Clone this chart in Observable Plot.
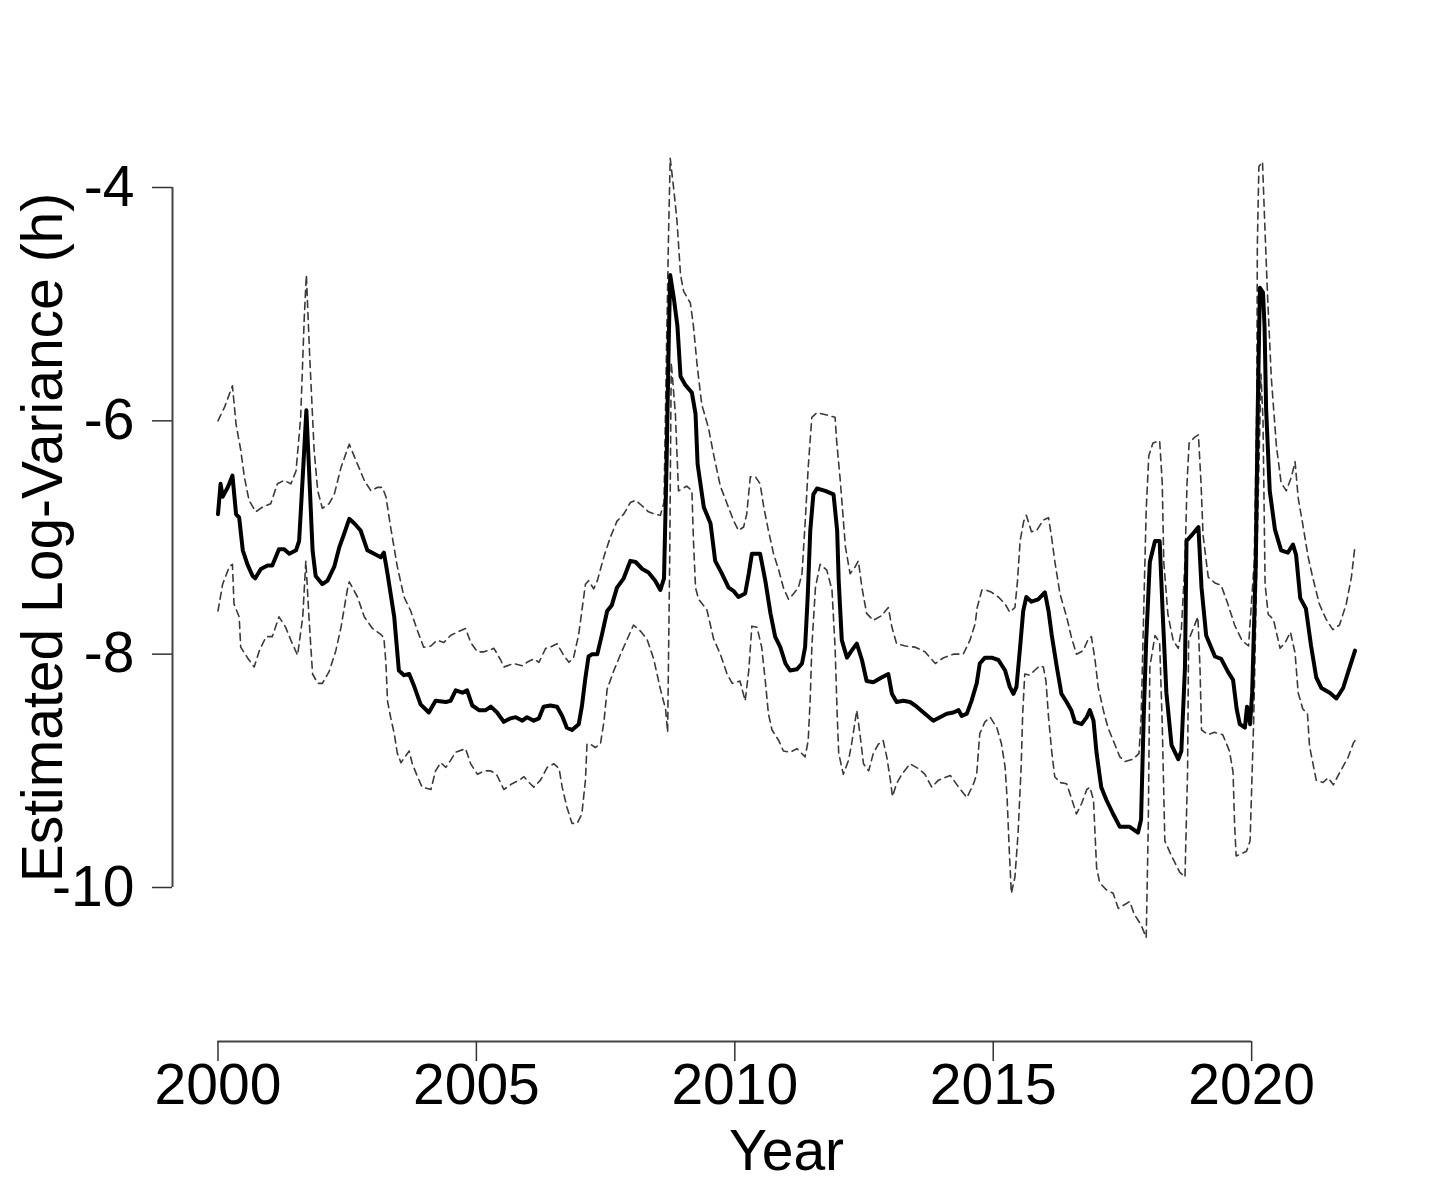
<!DOCTYPE html>
<html>
<head>
<meta charset="utf-8">
<script src="https://cdn.jsdelivr.net/npm/d3@7"></script>
<script src="https://cdn.jsdelivr.net/npm/@observablehq/plot@0.6"></script>
<style>
  html, body { margin: 0; padding: 0; background: #ffffff; }
  #chart { width: 1435px; height: 1196px; }
</style>
</head>
<body>
<div id="chart"></div>
<script>
// ---- Data (year, estimated log-variance) ----
const estimate = [
[2000.00,-6.80],[2000.05,-6.54],[2000.09,-6.65],[2000.19,-6.57],[2000.28,-6.47],[2000.35,-6.80],[2000.41,-6.83],
[2000.48,-7.11],[2000.57,-7.23],[2000.67,-7.33],[2000.72,-7.35],[2000.83,-7.27],[2000.96,-7.24],[2001.05,-7.24],
[2001.18,-7.10],[2001.28,-7.10],[2001.38,-7.14],[2001.51,-7.11],[2001.57,-7.03],[2001.64,-6.48],[2001.71,-5.91],
[2001.76,-6.40],[2001.83,-7.11],[2001.89,-7.33],[2002.02,-7.40],[2002.12,-7.37],[2002.25,-7.25],[2002.35,-7.08],
[2002.44,-6.97],[2002.54,-6.84],[2002.64,-6.88],[2002.76,-6.94],[2002.89,-7.11],[2003.02,-7.14],[2003.15,-7.17],
[2003.21,-7.13],[2003.28,-7.31],[2003.41,-7.68],[2003.50,-8.14],[2003.60,-8.18],[2003.70,-8.17],[2003.80,-8.28],
[2003.92,-8.43],[2004.08,-8.50],[2004.21,-8.40],[2004.41,-8.41],[2004.50,-8.40],[2004.60,-8.31],[2004.73,-8.33],
[2004.82,-8.31],[2004.92,-8.44],[2005.05,-8.48],[2005.18,-8.48],[2005.28,-8.45],[2005.40,-8.50],[2005.53,-8.58],
[2005.66,-8.55],[2005.76,-8.54],[2005.89,-8.57],[2005.98,-8.54],[2006.11,-8.57],[2006.21,-8.55],[2006.30,-8.45],
[2006.43,-8.44],[2006.56,-8.45],[2006.66,-8.53],[2006.75,-8.63],[2006.85,-8.65],[2006.98,-8.60],[2007.04,-8.45],
[2007.11,-8.20],[2007.17,-8.02],[2007.24,-8.00],[2007.34,-8.00],[2007.43,-7.83],[2007.53,-7.63],[2007.62,-7.58],
[2007.72,-7.43],[2007.85,-7.35],[2007.98,-7.20],[2008.08,-7.21],[2008.21,-7.27],[2008.33,-7.30],[2008.46,-7.37],
[2008.56,-7.45],[2008.63,-7.35],[2008.68,-6.36],[2008.72,-5.35],[2008.75,-4.75],[2008.82,-4.95],[2008.89,-5.19],
[2008.95,-5.62],[2009.04,-5.69],[2009.17,-5.76],[2009.24,-5.94],[2009.28,-6.37],[2009.40,-6.74],[2009.53,-6.88],
[2009.62,-7.20],[2009.75,-7.31],[2009.88,-7.43],[2009.98,-7.46],[2010.07,-7.51],[2010.20,-7.48],[2010.27,-7.31],
[2010.33,-7.14],[2010.49,-7.14],[2010.59,-7.37],[2010.69,-7.65],[2010.78,-7.85],[2010.88,-7.94],[2010.98,-8.08],
[2011.07,-8.14],[2011.20,-8.13],[2011.30,-8.08],[2011.36,-7.94],[2011.41,-7.51],[2011.46,-6.94],[2011.52,-6.63],
[2011.59,-6.58],[2011.75,-6.60],[2011.91,-6.63],[2011.98,-6.94],[2012.01,-7.37],[2012.07,-7.88],[2012.17,-8.03],
[2012.26,-7.97],[2012.36,-7.91],[2012.46,-8.05],[2012.55,-8.23],[2012.68,-8.24],[2012.84,-8.20],[2012.97,-8.17],
[2013.04,-8.34],[2013.13,-8.41],[2013.26,-8.40],[2013.39,-8.41],[2013.52,-8.45],[2013.65,-8.50],[2013.84,-8.57],
[2013.97,-8.54],[2014.10,-8.51],[2014.23,-8.50],[2014.33,-8.48],[2014.39,-8.53],[2014.49,-8.51],[2014.58,-8.40],
[2014.68,-8.25],[2014.74,-8.08],[2014.84,-8.03],[2014.97,-8.03],[2015.10,-8.05],[2015.23,-8.14],[2015.32,-8.28],
[2015.39,-8.34],[2015.45,-8.28],[2015.52,-7.94],[2015.58,-7.63],[2015.64,-7.51],[2015.74,-7.55],[2015.87,-7.53],
[2016.00,-7.47],[2016.07,-7.63],[2016.13,-7.83],[2016.23,-8.11],[2016.32,-8.34],[2016.42,-8.41],[2016.51,-8.48],
[2016.58,-8.58],[2016.71,-8.60],[2016.81,-8.54],[2016.87,-8.48],[2016.94,-8.57],[2017.00,-8.85],[2017.09,-9.14],
[2017.19,-9.25],[2017.32,-9.37],[2017.45,-9.48],[2017.64,-9.48],[2017.80,-9.53],[2017.86,-9.42],[2017.91,-8.56],
[2017.96,-7.88],[2018.03,-7.21],[2018.13,-7.03],[2018.22,-7.03],[2018.28,-7.66],[2018.35,-8.33],[2018.45,-8.78],
[2018.58,-8.90],[2018.64,-8.83],[2018.71,-8.11],[2018.74,-7.03],[2018.84,-6.98],[2018.97,-6.91],[2019.03,-7.43],
[2019.12,-7.84],[2019.29,-8.02],[2019.41,-8.04],[2019.54,-8.15],[2019.64,-8.22],[2019.71,-8.47],[2019.77,-8.60],
[2019.87,-8.63],[2019.91,-8.45],[2019.97,-8.60],[2020.01,-8.33],[2020.08,-7.21],[2020.12,-5.85],[2020.16,-4.86],
[2020.22,-4.90],[2020.25,-5.20],[2020.28,-5.90],[2020.35,-6.60],[2020.45,-6.93],[2020.57,-7.11],[2020.70,-7.13],
[2020.80,-7.06],[2020.86,-7.15],[2020.94,-7.52],[2021.05,-7.61],[2021.15,-7.93],[2021.25,-8.20],[2021.35,-8.29],
[2021.51,-8.33],[2021.64,-8.38],[2021.77,-8.29],[2021.87,-8.15],[2022.00,-7.97]
];

const upperBand = [
[2000.00,-6.00],[2000.13,-5.88],[2000.28,-5.70],[2000.35,-6.03],[2000.44,-6.25],[2000.51,-6.48],[2000.60,-6.68],
[2000.73,-6.78],[2000.86,-6.74],[2001.02,-6.71],[2001.15,-6.54],[2001.28,-6.51],[2001.41,-6.54],[2001.51,-6.43],
[2001.60,-5.97],[2001.67,-5.11],[2001.71,-4.75],[2001.77,-5.40],[2001.86,-6.25],[2001.93,-6.60],[2002.02,-6.75],
[2002.15,-6.71],[2002.25,-6.63],[2002.38,-6.40],[2002.54,-6.20],[2002.67,-6.34],[2002.83,-6.51],[2002.96,-6.60],
[2003.09,-6.57],[2003.18,-6.57],[2003.25,-6.65],[2003.34,-6.91],[2003.47,-7.25],[2003.60,-7.51],[2003.73,-7.63],
[2003.86,-7.80],[2003.98,-7.94],[2004.12,-7.93],[2004.24,-7.88],[2004.37,-7.90],[2004.50,-7.84],[2004.63,-7.81],
[2004.79,-7.78],[2004.89,-7.90],[2005.02,-7.98],[2005.15,-7.98],[2005.34,-7.95],[2005.47,-8.05],[2005.53,-8.11],
[2005.72,-8.08],[2005.89,-8.10],[2005.98,-8.07],[2006.11,-8.04],[2006.21,-8.07],[2006.34,-7.95],[2006.43,-7.94],
[2006.56,-7.91],[2006.69,-8.01],[2006.79,-8.07],[2006.88,-8.03],[2006.98,-7.83],[2007.04,-7.63],[2007.11,-7.40],
[2007.17,-7.37],[2007.27,-7.44],[2007.34,-7.37],[2007.47,-7.16],[2007.59,-7.00],[2007.72,-6.86],[2007.85,-6.80],
[2007.98,-6.70],[2008.08,-6.68],[2008.21,-6.73],[2008.33,-6.78],[2008.46,-6.80],[2008.56,-6.81],[2008.63,-6.70],
[2008.68,-5.35],[2008.72,-4.35],[2008.75,-3.75],[2008.82,-4.02],[2008.88,-4.28],[2008.95,-4.75],[2009.01,-4.89],
[2009.14,-4.99],[2009.20,-5.19],[2009.27,-5.52],[2009.36,-5.86],[2009.49,-6.06],[2009.59,-6.29],[2009.72,-6.56],
[2009.85,-6.71],[2009.98,-6.86],[2010.07,-6.94],[2010.17,-6.91],[2010.23,-6.80],[2010.30,-6.48],[2010.40,-6.48],
[2010.49,-6.54],[2010.56,-6.74],[2010.65,-6.94],[2010.75,-7.14],[2010.85,-7.28],[2010.94,-7.43],[2011.04,-7.53],
[2011.14,-7.48],[2011.23,-7.43],[2011.30,-7.31],[2011.36,-6.88],[2011.42,-6.40],[2011.49,-5.97],[2011.59,-5.93],
[2011.78,-5.95],[2011.94,-5.97],[2011.97,-6.17],[2012.04,-6.51],[2012.14,-7.08],[2012.23,-7.31],[2012.33,-7.25],
[2012.39,-7.20],[2012.46,-7.43],[2012.55,-7.65],[2012.68,-7.71],[2012.84,-7.67],[2012.97,-7.60],[2013.04,-7.77],
[2013.13,-7.91],[2013.30,-7.93],[2013.49,-7.94],[2013.68,-7.98],[2013.88,-8.08],[2014.04,-8.03],[2014.23,-8.00],
[2014.42,-8.00],[2014.55,-7.88],[2014.65,-7.74],[2014.69,-7.60],[2014.78,-7.45],[2014.86,-7.45],[2014.97,-7.47],
[2015.10,-7.51],[2015.23,-7.57],[2015.32,-7.64],[2015.42,-7.60],[2015.47,-7.37],[2015.52,-7.03],[2015.59,-6.86],
[2015.64,-6.81],[2015.74,-6.95],[2015.84,-6.94],[2015.97,-6.85],[2016.07,-6.83],[2016.13,-7.00],[2016.19,-7.20],
[2016.29,-7.48],[2016.42,-7.68],[2016.51,-7.85],[2016.61,-8.00],[2016.74,-7.97],[2016.84,-7.87],[2016.90,-7.85],
[2016.97,-8.05],[2017.03,-8.28],[2017.13,-8.48],[2017.22,-8.63],[2017.35,-8.77],[2017.45,-8.88],[2017.55,-8.92],
[2017.71,-8.90],[2017.82,-8.85],[2017.86,-8.56],[2017.91,-7.66],[2017.96,-6.76],[2018.01,-6.30],[2018.09,-6.19],
[2018.22,-6.17],[2018.27,-6.53],[2018.30,-7.21],[2018.38,-7.66],[2018.48,-7.88],[2018.58,-7.95],[2018.64,-7.79],
[2018.71,-7.21],[2018.75,-6.53],[2018.79,-6.19],[2018.90,-6.14],[2018.97,-6.12],[2019.02,-6.53],[2019.06,-6.98],
[2019.16,-7.34],[2019.29,-7.39],[2019.41,-7.41],[2019.54,-7.57],[2019.67,-7.75],[2019.81,-7.88],[2019.94,-7.93],
[2020.05,-7.21],[2020.10,-5.85],[2020.11,-4.50],[2020.14,-3.82],[2020.21,-3.78],[2020.25,-4.27],[2020.31,-4.95],
[2020.38,-5.63],[2020.48,-6.22],[2020.57,-6.53],[2020.67,-6.60],[2020.77,-6.48],[2020.84,-6.35],[2020.90,-6.66],
[2020.99,-6.89],[2021.09,-7.16],[2021.18,-7.34],[2021.31,-7.57],[2021.44,-7.70],[2021.57,-7.79],[2021.70,-7.75],
[2021.83,-7.57],[2021.93,-7.34],[2022.00,-7.07]
];

const lowerBand = [
[2000.00,-7.63],[2000.09,-7.40],[2000.22,-7.25],[2000.28,-7.23],[2000.31,-7.57],[2000.41,-7.68],[2000.44,-7.94],
[2000.57,-8.03],[2000.70,-8.11],[2000.80,-7.97],[2000.93,-7.85],[2001.05,-7.85],[2001.18,-7.68],[2001.31,-7.77],
[2001.41,-7.88],[2001.54,-8.01],[2001.64,-7.68],[2001.70,-7.20],[2001.76,-7.68],[2001.83,-8.17],[2001.93,-8.25],
[2002.02,-8.25],[2002.15,-8.15],[2002.28,-7.97],[2002.38,-7.77],[2002.51,-7.43],[2002.54,-7.38],[2002.70,-7.51],
[2002.83,-7.68],[2002.99,-7.78],[2003.15,-7.83],[2003.21,-7.86],[2003.25,-8.08],[2003.28,-8.40],[2003.34,-8.54],
[2003.41,-8.68],[2003.47,-8.85],[2003.54,-8.93],[2003.70,-8.83],[2003.76,-8.94],[2003.86,-9.05],[2003.95,-9.14],
[2004.12,-9.16],[2004.21,-9.00],[2004.31,-8.93],[2004.41,-8.97],[2004.50,-8.91],[2004.60,-8.84],[2004.79,-8.81],
[2004.89,-8.94],[2005.02,-9.03],[2005.15,-9.00],[2005.28,-9.00],[2005.40,-9.04],[2005.53,-9.16],[2005.69,-9.11],
[2005.83,-9.08],[2005.92,-9.05],[2006.02,-9.10],[2006.11,-9.14],[2006.24,-9.08],[2006.37,-8.97],[2006.50,-8.94],
[2006.60,-8.98],[2006.66,-9.14],[2006.75,-9.31],[2006.85,-9.45],[2006.95,-9.45],[2007.04,-9.37],[2007.11,-9.08],
[2007.14,-8.77],[2007.20,-8.77],[2007.30,-8.80],[2007.40,-8.77],[2007.47,-8.57],[2007.53,-8.30],[2007.66,-8.14],
[2007.79,-8.00],[2007.92,-7.87],[2008.04,-7.75],[2008.17,-7.80],[2008.30,-7.87],[2008.43,-8.04],[2008.56,-8.30],
[2008.66,-8.47],[2008.70,-8.67],[2008.74,-7.20],[2008.77,-5.50],[2008.85,-5.94],[2008.91,-6.60],[2009.07,-6.56],
[2009.17,-6.60],[2009.20,-7.03],[2009.24,-7.43],[2009.30,-7.53],[2009.46,-7.62],[2009.59,-7.87],[2009.72,-8.00],
[2009.85,-8.17],[2009.95,-8.25],[2010.10,-8.23],[2010.20,-8.40],[2010.27,-8.14],[2010.33,-7.76],[2010.43,-7.77],
[2010.52,-7.94],[2010.59,-8.23],[2010.65,-8.51],[2010.72,-8.65],[2010.85,-8.74],[2010.94,-8.83],[2011.07,-8.84],
[2011.20,-8.81],[2011.36,-8.88],[2011.42,-8.74],[2011.46,-8.37],[2011.49,-7.94],[2011.56,-7.43],[2011.65,-7.23],
[2011.78,-7.28],[2011.88,-7.45],[2011.94,-7.94],[2011.98,-8.51],[2012.01,-8.85],[2012.10,-9.03],[2012.20,-8.91],
[2012.26,-8.77],[2012.36,-8.48],[2012.42,-8.68],[2012.49,-8.94],[2012.59,-9.00],[2012.68,-8.85],[2012.78,-8.77],
[2012.87,-8.74],[2012.94,-8.88],[2013.01,-9.08],[2013.05,-9.22],[2013.13,-9.11],[2013.23,-9.03],[2013.39,-8.94],
[2013.55,-8.98],[2013.68,-9.03],[2013.81,-9.14],[2013.94,-9.08],[2014.17,-9.04],[2014.33,-9.14],[2014.49,-9.23],
[2014.62,-9.11],[2014.68,-9.03],[2014.71,-8.85],[2014.74,-8.68],[2014.84,-8.58],[2014.94,-8.54],[2015.07,-8.63],
[2015.16,-8.77],[2015.23,-8.97],[2015.27,-9.25],[2015.31,-9.68],[2015.35,-10.05],[2015.42,-9.91],[2015.48,-9.54],
[2015.54,-8.97],[2015.57,-8.51],[2015.61,-8.17],[2015.70,-8.18],[2015.80,-8.14],[2015.90,-8.10],[2015.97,-8.11],
[2016.02,-8.23],[2016.07,-8.54],[2016.13,-8.83],[2016.19,-9.05],[2016.29,-9.10],[2016.42,-9.11],[2016.51,-9.23],
[2016.61,-9.37],[2016.71,-9.28],[2016.81,-9.16],[2016.87,-9.14],[2016.94,-9.25],[2016.97,-9.54],[2017.00,-9.83],
[2017.06,-9.96],[2017.19,-10.02],[2017.32,-10.05],[2017.42,-10.18],[2017.64,-10.12],[2017.73,-10.23],[2017.86,-10.32],
[2017.96,-10.43],[2018.00,-9.46],[2018.03,-8.11],[2018.13,-7.84],[2018.22,-7.90],[2018.27,-8.60],[2018.32,-9.60],
[2018.45,-9.73],[2018.61,-9.87],[2018.71,-9.91],[2018.76,-9.01],[2018.78,-7.88],[2018.86,-7.79],[2018.96,-7.68],
[2019.00,-8.11],[2019.03,-8.65],[2019.16,-8.69],[2019.28,-8.67],[2019.44,-8.69],[2019.57,-8.83],[2019.64,-9.01],
[2019.67,-9.46],[2019.70,-9.73],[2019.80,-9.71],[2019.90,-9.69],[2019.97,-9.60],[2020.04,-8.56],[2020.12,-6.80],
[2020.18,-5.60],[2020.22,-6.00],[2020.26,-7.40],[2020.32,-7.66],[2020.42,-7.70],[2020.55,-7.95],[2020.65,-7.90],
[2020.75,-7.81],[2020.84,-7.99],[2020.90,-8.33],[2020.99,-8.47],[2021.08,-8.51],[2021.12,-8.79],[2021.25,-9.08],
[2021.38,-9.10],[2021.48,-9.06],[2021.58,-9.12],[2021.71,-9.01],[2021.87,-8.88],[2021.97,-8.76],[2022.00,-8.74]
];

const xTicks = [2000, 2005, 2010, 2015, 2020];
const yTicks = [-10, -8, -6, -4];
const xLabel = "Year";
const yLabel = "Estimated Log-Variance (h)";
const xLimits = [2000, 2022];   // data range on x
const yLimits = [-11, -3];      // ylim of the original plot

// R-style 4% axis extension
const ext = ([a, b]) => [a - 0.04 * (b - a), b + 0.04 * (b - a)];
const xDomain = ext(xLimits);
const yDomain = ext(yLimits);

const FONT = "'Liberation Sans', Arial, Helvetica, sans-serif";
const FS = 57;

const chart = Plot.plot({
  width: 1435,
  height: 1196,
  marginLeft: 172,
  marginRight: 35,
  marginTop: 33,
  marginBottom: 155,
  style: { fontFamily: FONT, background: "#ffffff", color: "#000000" },
  x: { domain: xDomain },
  y: { domain: yDomain },
  marks: [
    // axis lines (R-style, spanning first to last tick)
    Plot.ruleX([xDomain[0]], { y1: d3.min(yTicks), y2: d3.max(yTicks), stroke: "#444", strokeWidth: 2 }),
    Plot.ruleY([yDomain[0]], { x1: d3.min(xTicks), x2: d3.max(xTicks), stroke: "#444", strokeWidth: 2 }),
    Plot.axisX({ ticks: xTicks, tickSize: 20, tickPadding: 2, fontSize: FS, tickFormat: d => String(d), label: null, stroke: "#333", strokeWidth: 1.5 }),
    Plot.axisY({ ticks: yTicks, tickSize: 20, tickPadding: 18, fontSize: FS, tickFormat: d => String(d), label: null, stroke: "#333", strokeWidth: 1.5 }),
    // confidence bands
    Plot.line(upperBand, { x: d => d[0], y: d => d[1], stroke: "#3a3a3a", strokeWidth: 1.6, strokeDasharray: "7,5" }),
    Plot.line(lowerBand, { x: d => d[0], y: d => d[1], stroke: "#3a3a3a", strokeWidth: 1.6, strokeDasharray: "7,5" }),
    // estimate
    Plot.line(estimate, { x: d => d[0], y: d => d[1], stroke: "#000", strokeWidth: 4, strokeLinejoin: "round" }),
    // axis titles
    Plot.text([xLabel], { text: d => d, frameAnchor: "bottom", textAnchor: "middle", dy: 110, fontSize: FS, lineAnchor: "middle", fill: "#000" }),
    Plot.text([yLabel], { text: d => d, frameAnchor: "left", textAnchor: "middle", dx: -129, rotate: -90, fontSize: FS, lineAnchor: "middle", fill: "#000" })
  ]
});

document.getElementById("chart").appendChild(chart);
</script>
</body>
</html>
